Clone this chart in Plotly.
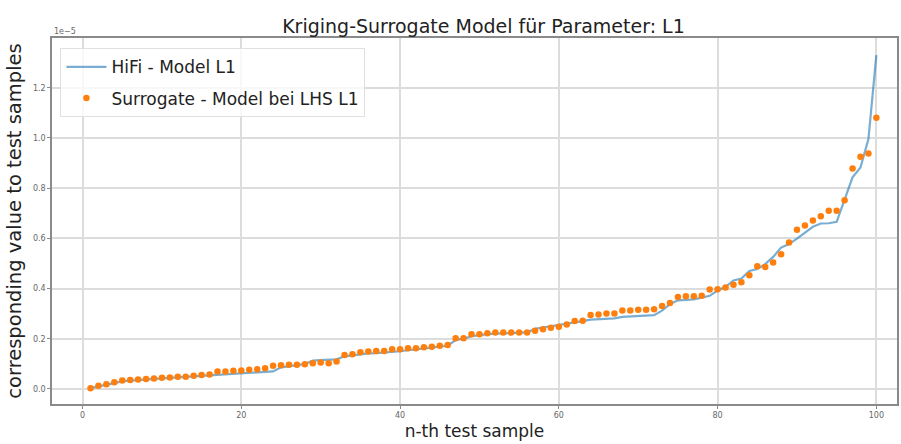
import plotly.graph_objects as go

# values in units of 1e-5
samples = list(range(1, 101))
hifi = [0.003, 0.010, 0.017, 0.024, 0.030, 0.033, 0.036, 0.038, 0.040, 0.042,
        0.044, 0.046, 0.048, 0.050, 0.052, 0.054, 0.057, 0.060, 0.062, 0.064,
        0.065, 0.066, 0.067, 0.070, 0.086, 0.092, 0.095, 0.099, 0.113, 0.115,
        0.116, 0.118, 0.130, 0.135, 0.140, 0.142, 0.143, 0.145, 0.147, 0.150,
        0.154, 0.158, 0.162, 0.165, 0.168, 0.172, 0.195, 0.200, 0.210, 0.215,
        0.218, 0.220, 0.221, 0.222, 0.223, 0.225, 0.240, 0.245, 0.250, 0.255,
        0.258, 0.263, 0.270, 0.276, 0.278, 0.279, 0.281, 0.287, 0.289, 0.290,
        0.292, 0.294, 0.312, 0.338, 0.353, 0.355, 0.357, 0.364, 0.371, 0.392,
        0.407, 0.432, 0.440, 0.470, 0.478, 0.497, 0.526, 0.563, 0.577, 0.599,
        0.622, 0.646, 0.659, 0.660, 0.666, 0.752, 0.843, 0.882, 0.995, 1.330]
surrogate = [0.003, 0.013, 0.019, 0.027, 0.034, 0.036, 0.038, 0.040, 0.042, 0.045,
             0.046, 0.049, 0.049, 0.053, 0.056, 0.058, 0.069, 0.069, 0.072, 0.073,
             0.076, 0.078, 0.082, 0.092, 0.094, 0.096, 0.096, 0.098, 0.102, 0.105,
             0.102, 0.109, 0.135, 0.138, 0.146, 0.149, 0.151, 0.151, 0.158, 0.158,
             0.162, 0.162, 0.166, 0.168, 0.172, 0.175, 0.202, 0.202, 0.218, 0.218,
             0.222, 0.225, 0.225, 0.225, 0.225, 0.225, 0.232, 0.238, 0.244, 0.248,
             0.257, 0.271, 0.272, 0.295, 0.297, 0.301, 0.301, 0.312, 0.312, 0.315,
             0.315, 0.317, 0.330, 0.342, 0.366, 0.369, 0.369, 0.371, 0.396, 0.397,
             0.404, 0.415, 0.425, 0.453, 0.489, 0.486, 0.504, 0.537, 0.583, 0.634,
             0.651, 0.671, 0.688, 0.710, 0.710, 0.752, 0.878, 0.925, 0.938, 1.080]
x_ticks = [0, 20, 40, 60, 80, 100]
y_ticks = [0.0, 0.2, 0.4, 0.6, 0.8, 1.0, 1.2]
y_tick_labels = ["0.0", "0.2", "0.4", "0.6", "0.8", "1.0", "1.2"]

fig = go.Figure()
fig.add_trace(go.Scatter(
    x=samples, y=hifi, mode="lines", name="HiFi - Model L1", legendgroup="a",
    line=dict(color="rgba(31,119,180,0.6)", width=2.2)))
fig.add_trace(go.Scatter(
    x=samples, y=surrogate, mode="markers", name="Surrogate - Model bei LHS L1",
    legendgroup="b", marker=dict(color="#ff7f0e", size=6.5)))

axis_common = dict(showline=True, linecolor="#8a8a8a", linewidth=1.5, mirror=True,
                   showgrid=True, gridcolor="#dcdcdc", gridwidth=1.5,
                   zeroline=False, ticks="outside", ticklen=3, tickcolor="#8a8a8a",
                   tickfont=dict(family="DejaVu Sans", size=8, color="#666"))

fig.update_layout(
    width=901, height=444,
    margin=dict(l=52, r=2, t=38, b=40),
    paper_bgcolor="white", plot_bgcolor="white",
    title=dict(text="Kriging-Surrogate Model für Parameter: L1",
               x=0.5366, xanchor="center", y=0.94, yanchor="middle",
               font=dict(family="DejaVu Sans", size=19, color="#222")),
    xaxis=dict(range=[-3.85, 102.6], tickvals=x_ticks,
               title=dict(text="n-th test sample", standoff=6,
                          font=dict(family="DejaVu Sans", size=17, color="#222")),
               **axis_common),
    yaxis=dict(range=[-0.06, 1.398], tickvals=y_ticks, ticktext=y_tick_labels,
               title=dict(text="corresponding value to test samples", standoff=6,
                          font=dict(family="DejaVu Sans", size=19.5, color="#222")),
               **axis_common),
    legend=dict(x=0.01, y=0.972, xanchor="left", yanchor="top",
                bgcolor="rgba(255,255,255,0.8)", bordercolor="#e0e0e0", borderwidth=1,
                font=dict(family="DejaVu Sans", size=17, color="#222"),
                itemwidth=40, tracegroupgap=6),
    annotations=[dict(text="1e\u22125", xref="paper", yref="paper", x=0, y=1.0,
                      xanchor="left", yanchor="bottom", showarrow=False,
                      font=dict(family="DejaVu Sans", size=8, color="#666"))],
    showlegend=True,
)

fig.write_html("out.html")
